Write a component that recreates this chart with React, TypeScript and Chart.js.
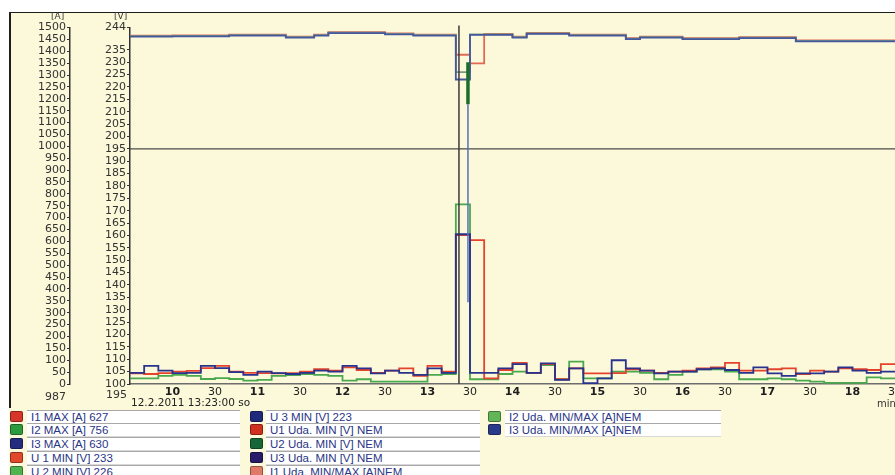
import React, { useEffect, useRef } from 'react';
import { Chart, registerables } from 'chart.js';

Chart.register(...registerables);

// ---- data (10 s samples starting at minute 9:30) ----
const startMinute = 9.5;
const sampleSeconds = 10;

const i1Max = [45, 42, 46, 52, 55, 67, 76, 52, 47, 46, 45, 46, 52, 63, 56, 70, 59, 47, 56, 66, 34, 76, 52, 627, 605, 24, 59, 89, 47, 84, 20, 66, 45, 45, 46, 62, 56, 47, 52, 56, 66, 70, 89, 56, 56, 62, 66, 42, 56, 52, 66, 62, 59, 84, 84];
const i2Max = [24, 24, 34, 38, 34, 21, 25, 21, 14, 17, 34, 37, 42, 38, 34, 14, 20, 10, 10, 10, 10, 38, 42, 756, 20, 20, 42, 52, 47, 80, 20, 94, 24, 24, 52, 52, 47, 20, 38, 52, 62, 62, 52, 20, 20, 24, 20, 14, 10, 5, 5, 5, 28, 24, 24];
const i3Max = [47, 76, 56, 46, 47, 76, 67, 50, 38, 52, 46, 42, 47, 56, 52, 76, 66, 45, 56, 47, 38, 66, 47, 630, 47, 47, 66, 84, 47, 87, 17, 66, 4, 24, 100, 66, 56, 45, 52, 52, 62, 66, 59, 47, 70, 45, 34, 45, 45, 52, 70, 56, 47, 52, 52];

const u1Min = [240.7, 240.7, 240.7, 240.8, 240.8, 240.8, 240.8, 241.1, 241.1, 241.1, 241.1, 240.3, 240.3, 241.1, 242.1, 242.1, 242.1, 242.1, 241.6, 241.6, 241.1, 241.1, 241.1, 233, 229.5, 241.4, 241.4, 240.3, 241.8, 241.8, 241.8, 241.1, 241.1, 241.1, 241.1, 239.7, 240.3, 240.3, 240.3, 239.7, 239.7, 239.7, 239.7, 240.1, 240.1, 240.1, 240.1, 238.8, 238.8, 238.8, 238.8, 238.8, 238.8, 238.8, 238.8];
const u2Min = [240.5, 240.5, 240.5, 240.6, 240.6, 240.6, 240.6, 240.9, 240.9, 240.9, 240.9, 240.1, 240.1, 240.9, 241.9, 241.9, 241.9, 241.9, 241.4, 241.4, 240.9, 240.9, 240.9, 226, 241.2, 241.2, 241.2, 240.1, 241.6, 241.6, 241.6, 240.9, 240.9, 240.9, 240.9, 239.5, 240.1, 240.1, 240.1, 239.5, 239.5, 239.5, 239.5, 239.9, 239.9, 239.9, 239.9, 238.6, 238.6, 238.6, 238.6, 238.6, 238.6, 238.6, 238.6];
const u3Min = [240.3, 240.3, 240.3, 240.4, 240.4, 240.4, 240.4, 240.7, 240.7, 240.7, 240.7, 239.9, 239.9, 240.7, 241.7, 241.7, 241.7, 241.7, 241.2, 241.2, 240.7, 240.7, 240.7, 223, 241.0, 241.0, 241.0, 239.9, 241.4, 241.4, 241.4, 240.7, 240.7, 240.7, 240.7, 239.3, 239.9, 239.9, 239.9, 239.3, 239.3, 239.3, 239.3, 239.7, 239.7, 239.7, 239.7, 238.4, 238.4, 238.4, 238.4, 238.4, 238.4, 238.4, 238.4];

// min/max bars at the event
const eventBarMinute = 13.476;
const u2BarRange = [230, 213];
const i3BarRange = [213, 133];
const cursorMinute = 13.37;
const dividerVolt = 195;

// ticks
const ampTicks = [0, 50, 100, 150, 200, 250, 300, 350, 400, 450, 500, 550, 600, 650, 700, 750, 800, 850, 900, 950, 1000, 1050, 1100, 1150, 1200, 1250, 1300, 1350, 1400, 1450, 1500];
const voltTicks = [100, 105, 110, 115, 120, 125, 130, 135, 140, 145, 150, 155, 160, 165, 170, 175, 180, 185, 190, 195, 200, 205, 210, 215, 220, 225, 230, 235, 244];
const timeTicks = [10, 10.5, 11, 11.5, 12, 12.5, 13, 13.5, 14, 14.5, 15, 15.5, 16, 16.5, 17, 17.5, 18, 18.5];

// legend
const legendLabels = [
  'I1 MAX [A] 627',
  'I2 MAX [A] 756',
  'I3 MAX [A] 630',
  'U 1 MIN [V] 233',
  'U 2 MIN [V] 226',
  'U 3 MIN [V] 223',
  'U1 Uda. MIN [V] NEM',
  'U2 Uda. MIN [V] NEM',
  'U3 Uda. MIN [V] NEM',
  'I1 Uda. MIN/MAX [A]NEM',
  'I2 Uda. MIN/MAX [A]NEM',
  'I3 Uda. MIN/MAX [A]NEM',
];
const legendColors = ['#d8352a', '#2e9a3e', '#232c7e', '#e0492c', '#4fb44f', '#1f2a7c', '#d2301f', '#17663a', '#281c68', '#e07a68', '#63b658', '#2a3a8a'];

const times = i1Max.map((_, i) => startMinute + (i * sampleSeconds) / 60);
const toPts = (vals: number[]) => vals.map((v, i) => ({ x: times[i], y: v }));

const overlayPlugin = {
  id: 'overlay',
  beforeDatasetsDraw(chart: any) {
    const { ctx, chartArea, scales } = chart;
    const y = scales.yV.getPixelForValue(dividerVolt);
    ctx.save();
    ctx.strokeStyle = '#4a4a4a';
    ctx.lineWidth = 1.2;
    ctx.beginPath();
    ctx.moveTo(chartArea.left, y);
    ctx.lineTo(chartArea.right, y);
    ctx.stroke();
    ctx.restore();
  },
  afterDatasetsDraw(chart: any) {
    const { ctx, chartArea, scales } = chart;
    const x = scales.x.getPixelForValue(cursorMinute);
    ctx.save();
    ctx.strokeStyle = '#3a3a3a';
    ctx.lineWidth = 1.5;
    ctx.beginPath();
    ctx.moveTo(x, chartArea.top - 2);
    ctx.lineTo(x, chartArea.bottom);
    ctx.stroke();
    ctx.restore();
  },
};

const tickFont = { family: 'DejaVu Sans', size: 11 };

export default function App() {
  const ref = useRef<HTMLCanvasElement | null>(null);

  useEffect(() => {
    if (!ref.current) return;
    const line = (label: string, data: any, axis: string, color: string, extra: any = {}) => ({
      label,
      data,
      yAxisID: axis,
      borderColor: color,
      backgroundColor: color,
      borderWidth: 1.8,
      pointRadius: 0,
      stepped: true,
      fill: false,
      ...extra,
    });
    const chart = new Chart(ref.current, {
      type: 'line',
      data: {
        datasets: [
          line('I3 Uda. MIN/MAX', [{ x: eventBarMinute, y: i3BarRange[0] }, { x: eventBarMinute, y: i3BarRange[1] }], 'yV', '#5470c0', { stepped: false, borderWidth: 1.5 }),
          line('U2 Uda. MIN', [{ x: eventBarMinute, y: u2BarRange[0] }, { x: eventBarMinute, y: u2BarRange[1] }], 'yV', '#1d6e2c', { stepped: false, borderWidth: 3.5 }),
          line('I3 MAX', toPts(i3Max), 'yA', '#27338c'),
          line('I1 MAX', toPts(i1Max), 'yA', '#e4432d'),
          line('I2 MAX', toPts(i2Max), 'yA', '#4aa84e'),
          line('U 3 MIN', toPts(u3Min), 'yV', '#44589e'),
          line('U 2 MIN', toPts(u2Min), 'yV', '#7a9a84'),
          line('U 1 MIN', toPts(u1Min), 'yV', '#e06a55'),
        ],
      },
      options: {
        animation: false,
        responsive: false,
        devicePixelRatio: 1,
        layout: { padding: { top: 27.5, left: 0, right: 0, bottom: 0 } },
        plugins: { legend: { display: false }, tooltip: { enabled: false } },
        scales: {
          x: {
            type: 'linear',
            min: startMinute,
            max: 18.5,
            afterBuildTicks: (s: any) => {
              s.ticks = timeTicks.map((v) => ({ value: v }));
            },
            afterFit: (s: any) => {
              s.height = 91;
              s.paddingLeft = 0;
              s.paddingRight = 0;
            },
            grid: { display: false, drawTicks: false },
            border: { display: true, color: '#6d6d6d', width: 1.5 },
            ticks: {
              padding: 2,
              autoSkip: false,
              maxRotation: 0,
              color: '#1e1e1e',
              font: (c: any) => ({
                family: 'DejaVu Sans',
                size: 11,
                weight: c.tick && Number.isInteger(c.tick.value) ? 'bold' : 'normal',
              }),
              callback: (v: any) => (Number.isInteger(v) ? String(v) : '30'),
            },
          },
          yA: {
            type: 'linear',
            position: 'left',
            weight: 1,
            min: 0,
            max: 1500,
            afterBuildTicks: (s: any) => {
              s.ticks = ampTicks.map((v) => ({ value: v }));
            },
            afterFit: (s: any) => {
              s.width = 70;
            },
            grid: { drawOnChartArea: false, tickLength: 3, color: '#333' },
            border: { display: true, color: '#333', width: 1.5 },
            ticks: { autoSkip: false, padding: 1, color: '#333', font: tickFont, callback: (v: any) => String(v) },
          },
          yV: {
            type: 'linear',
            position: 'left',
            weight: 0,
            min: 100,
            max: 244,
            afterBuildTicks: (s: any) => {
              s.ticks = voltTicks.map((v) => ({ value: v }));
            },
            afterFit: (s: any) => {
              s.width = 60;
            },
            grid: { drawOnChartArea: false, tickLength: 3, color: '#333' },
            border: { display: true, color: '#333', width: 1.5 },
            ticks: { autoSkip: false, padding: 1, color: '#333', font: tickFont, callback: (v: any) => String(v) },
          },
        },
      } as any,
      plugins: [overlayPlugin],
    });
    return () => chart.destroy();
  }, []);

  const abs = (left: number, top: number, extra: any = {}): React.CSSProperties => ({
    position: 'absolute',
    left,
    top,
    lineHeight: 1,
    whiteSpace: 'nowrap',
    fontFamily: 'DejaVu Sans',
    color: '#333',
    ...extra,
  });

  const colSquareLeft = [10, 250, 488];
  const colBoxLeft = [27, 266, 505];
  const colBoxWidth = [209, 210, 212];

  return (
    <div style={{ position: 'fixed', left: 0, top: 0, width: 895, height: 475, overflow: 'hidden', background: '#fff' }}>
      <div style={{ position: 'absolute', left: 9, top: 12, right: 0, bottom: 0, background: '#fcf8da', borderTop: '1.5px solid #1e1e1e' }} />
      <div style={{ position: 'absolute', left: 9, top: 12, width: 1.5, height: 396, background: '#1e1e1e' }} />
      <canvas ref={ref} width={895} height={475} style={{ position: 'absolute', left: 0, top: 0 }} />
      <div style={abs(51, 12, { fontSize: 9 })}>[A]</div>
      <div style={abs(114, 12, { fontSize: 9 })}>[V]</div>
      <div style={abs(45, 391, { fontSize: 11 })}>987</div>
      <div style={abs(106, 389, { fontSize: 11 })}>195</div>
      <div style={abs(131, 397, { fontSize: 10.5, color: '#222' })}>12.2.2011 13:23:00 so</div>
      <div style={abs(877, 399, { fontSize: 10, color: '#333' })}>min</div>
      {legendLabels.map((lab, k) => {
        const col = Math.floor(k / 5);
        const row = k % 5;
        const top = 409.5 + row * 13.75;
        return (
          <React.Fragment key={lab}>
            <div
              style={{
                position: 'absolute',
                left: colSquareLeft[col],
                top: top + 1,
                width: 11,
                height: 9,
                borderRadius: 2,
                background: legendColors[k],
                border: '1px solid rgba(0,0,0,0.35)',
              }}
            />
            <div
              style={{
                position: 'absolute',
                left: colBoxLeft[col],
                top,
                width: colBoxWidth[col],
                height: 12,
                background: '#fff',
                borderTop: '1px solid #a8a8a8',
                borderBottom: '1px solid #d8d8d8',
                fontFamily: 'Liberation Sans',
                fontSize: 11.5,
                lineHeight: '12px',
                color: '#2a3585',
                paddingLeft: 4,
                whiteSpace: 'nowrap',
                boxSizing: 'content-box',
              }}
            >
              {lab}
            </div>
          </React.Fragment>
        );
      })}
    </div>
  );
}
